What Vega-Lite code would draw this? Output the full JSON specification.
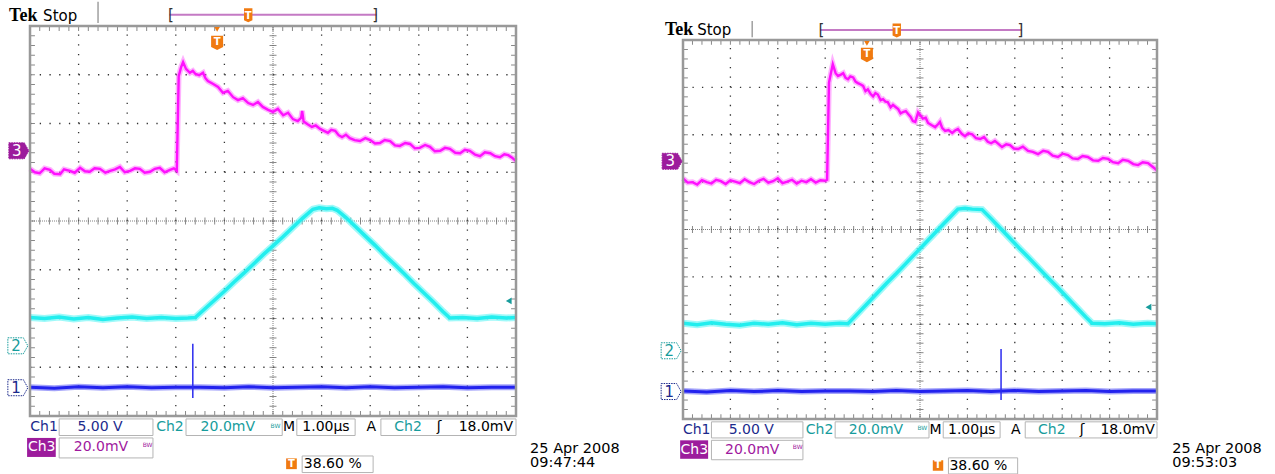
{
"$schema":"https://vega.github.io/schema/vega-lite/v6.json",
"padding":0,
"spacing":0,
"background":"#ffffff",
"config":{"view":{"stroke":null}},
"datasets":{
"minorX":[{"x":0.2},{"x":0.4},{"x":0.6},{"x":0.8},{"x":1},{"x":1.2},{"x":1.4},{"x":1.6},{"x":1.8},{"x":2},{"x":2.2},{"x":2.4},{"x":2.6},{"x":2.8},{"x":3},{"x":3.2},{"x":3.4},{"x":3.6},{"x":3.8},{"x":4},{"x":4.2},{"x":4.4},{"x":4.6},{"x":4.8},{"x":5},{"x":5.2},{"x":5.4},{"x":5.6},{"x":5.8},{"x":6},{"x":6.2},{"x":6.4},{"x":6.6},{"x":6.8},{"x":7},{"x":7.2},{"x":7.4},{"x":7.6},{"x":7.8},{"x":8},{"x":8.2},{"x":8.4},{"x":8.6},{"x":8.8},{"x":9},{"x":9.2},{"x":9.4},{"x":9.6},{"x":9.8}],
"minorY":[{"y":-3.8},{"y":-3.6},{"y":-3.4},{"y":-3.2},{"y":-3},{"y":-2.8},{"y":-2.6},{"y":-2.4},{"y":-2.2},{"y":-2},{"y":-1.8},{"y":-1.6},{"y":-1.4},{"y":-1.2},{"y":-1},{"y":-0.8},{"y":-0.6},{"y":-0.4},{"y":-0.2},{"y":0},{"y":0.2},{"y":0.4},{"y":0.6},{"y":0.8},{"y":1},{"y":1.2},{"y":1.4},{"y":1.6},{"y":1.8},{"y":2},{"y":2.2},{"y":2.4},{"y":2.6},{"y":2.8},{"y":3},{"y":3.2},{"y":3.4},{"y":3.6},{"y":3.8}],
"gridV":[{"x":1},{"x":2},{"x":3},{"x":4},{"x":6},{"x":7},{"x":8},{"x":9}],
"gridH":[{"y":-3},{"y":-2},{"y":-1},{"y":1},{"y":2},{"y":3}],
"frame":[{"x":0,"x2":10,"y":-4,"y2":4}],
"boxes":[{"x":0.6,"x2":2.53,"y":-4.06,"y2":-4.4},{"x":3.21,"x2":5.19,"y":-4.06,"y2":-4.4},{"x":5.49,"x2":6.69,"y":-4.06,"y2":-4.4},{"x":7.22,"x2":10,"y":-4.06,"y2":-4.4},{"x":0.6,"x2":2.53,"y":-4.45,"y2":-4.86},{"x":5.6,"x2":7.06,"y":-4.82,"y2":-5.16}],
"fills":[{"x":-0.06,"x2":0.53,"y":-4.45,"y2":-4.84,"k":"p"},{"x":5.27,"x2":5.49,"y":-4.87,"y2":-5.09,"k":"o"}],
"labels":[{"x":0.29,"y":-4.23,"t":"Ch1","k":"c1"},{"x":1.44,"y":-4.23,"t":"5.00 V","k":"c1"},{"x":2.88,"y":-4.23,"t":"Ch2","k":"c2"},{"x":4.07,"y":-4.23,"t":"20.0mV","k":"c2"},{"x":5.33,"y":-4.23,"t":"M","k":"k"},{"x":6.09,"y":-4.23,"t":"1.00µs","k":"k"},{"x":7.02,"y":-4.23,"t":"A","k":"k"},{"x":7.78,"y":-4.23,"t":"Ch2","k":"c2"},{"x":8.42,"y":-4.23,"t":"ʃ","k":"k"},{"x":9.38,"y":-4.23,"t":"18.0mV","k":"k"},{"x":0.24,"y":-4.645,"t":"Ch3","k":"w"},{"x":1.46,"y":-4.645,"t":"20.0mV","k":"c3"},{"x":6.23,"y":-4.99,"t":"38.60 %","k":"k"}],
"bw":[{"x":5.05,"y":-4.2,"t":"BW","k":"c2"},{"x":2.42,"y":-4.6,"t":"BW","k":"c3"}],
"mk":[{"x":-0.23,"y":1.44,"k":"c3"},{"x":-0.25,"y":-2.56,"k":"c2"},{"x":-0.25,"y":-3.42,"k":"c1"}],
"mkText":[{"x":-0.27,"y":1.44,"t":"3","k":"w"},{"x":-0.29,"y":-2.56,"t":"2","k":"c2"},{"x":-0.29,"y":-3.42,"t":"1","k":"c1"}],
"L3":[{"x":0.0,"y":1.07},{"x":0.1,"y":1.0},{"x":0.2,"y":0.98},{"x":0.3,"y":1.08},{"x":0.41,"y":1.05},{"x":0.5,"y":0.97},{"x":0.62,"y":0.96},{"x":0.7,"y":1.06},{"x":0.82,"y":1.03},{"x":0.92,"y":0.99},{"x":1.03,"y":1.09},{"x":1.13,"y":1.02},{"x":1.23,"y":1.01},{"x":1.33,"y":1.08},{"x":1.44,"y":1.07},{"x":1.55,"y":0.99},{"x":1.65,"y":1.03},{"x":1.75,"y":1.06},{"x":1.85,"y":1.11},{"x":1.95,"y":1.0},{"x":2.06,"y":1.03},{"x":2.16,"y":1.08},{"x":2.26,"y":1.07},{"x":2.36,"y":0.99},{"x":2.47,"y":1.01},{"x":2.57,"y":1.07},{"x":2.67,"y":1.09},{"x":2.77,"y":1.0},{"x":2.88,"y":1.05},{"x":2.96,"y":1.08},{"x":3.02,"y":1.03},{"x":3.06,"y":2.97},{"x":3.11,"y":3.16},{"x":3.15,"y":3.26},{"x":3.21,"y":3.12},{"x":3.29,"y":3.04},{"x":3.35,"y":3.08},{"x":3.4,"y":3.02},{"x":3.48,"y":2.99},{"x":3.56,"y":3.04},{"x":3.61,"y":2.93},{"x":3.66,"y":2.87},{"x":3.77,"y":2.81},{"x":3.87,"y":2.75},{"x":3.97,"y":2.63},{"x":4.07,"y":2.67},{"x":4.18,"y":2.54},{"x":4.28,"y":2.48},{"x":4.38,"y":2.52},{"x":4.49,"y":2.42},{"x":4.59,"y":2.38},{"x":4.69,"y":2.44},{"x":4.79,"y":2.34},{"x":4.9,"y":2.28},{"x":5.0,"y":2.24},{"x":5.1,"y":2.3},{"x":5.21,"y":2.17},{"x":5.31,"y":2.22},{"x":5.41,"y":2.09},{"x":5.51,"y":2.05},{"x":5.58,"y":2.12},{"x":5.6,"y":2.26},{"x":5.63,"y":2.04},{"x":5.72,"y":1.98},{"x":5.8,"y":1.93},{"x":5.88,"y":1.96},{"x":5.97,"y":1.89},{"x":6.05,"y":1.85},{"x":6.13,"y":1.81},{"x":6.2,"y":1.87},{"x":6.28,"y":1.85},{"x":6.35,"y":1.76},{"x":6.42,"y":1.72},{"x":6.5,"y":1.77},{"x":6.58,"y":1.7},{"x":6.68,"y":1.66},{"x":6.79,"y":1.64},{"x":6.9,"y":1.7},{"x":7.0,"y":1.66},{"x":7.1,"y":1.59},{"x":7.2,"y":1.6},{"x":7.3,"y":1.66},{"x":7.41,"y":1.64},{"x":7.51,"y":1.55},{"x":7.61,"y":1.54},{"x":7.72,"y":1.6},{"x":7.82,"y":1.58},{"x":7.92,"y":1.49},{"x":8.02,"y":1.5},{"x":8.13,"y":1.56},{"x":8.23,"y":1.52},{"x":8.33,"y":1.43},{"x":8.44,"y":1.44},{"x":8.54,"y":1.5},{"x":8.64,"y":1.48},{"x":8.75,"y":1.4},{"x":8.85,"y":1.39},{"x":8.95,"y":1.46},{"x":9.05,"y":1.44},{"x":9.16,"y":1.36},{"x":9.26,"y":1.33},{"x":9.36,"y":1.41},{"x":9.47,"y":1.39},{"x":9.57,"y":1.33},{"x":9.67,"y":1.31},{"x":9.76,"y":1.37},{"x":9.84,"y":1.35},{"x":9.92,"y":1.3},{"x":10.0,"y":1.23}],
"L2":[{"x":0,"y":-1.98},{"x":0.3,"y":-2.0},{"x":0.6,"y":-1.97},{"x":0.9,"y":-2.01},{"x":1.2,"y":-1.98},{"x":1.5,"y":-2.02},{"x":1.8,"y":-1.99},{"x":2.1,"y":-1.97},{"x":2.4,"y":-2.0},{"x":2.7,"y":-1.98},{"x":3.0,"y":-2.0},{"x":3.25,"y":-1.99},{"x":3.4,"y":-1.98},{"x":3.6,"y":-1.8},{"x":3.8,"y":-1.62},{"x":4.0,"y":-1.44},{"x":4.2,"y":-1.25},{"x":4.4,"y":-1.07},{"x":4.6,"y":-0.88},{"x":4.8,"y":-0.69},{"x":5.0,"y":-0.51},{"x":5.2,"y":-0.33},{"x":5.4,"y":-0.14},{"x":5.6,"y":0.05},{"x":5.82,"y":0.24},{"x":5.95,"y":0.27},{"x":6.1,"y":0.25},{"x":6.22,"y":0.26},{"x":6.32,"y":0.22},{"x":6.5,"y":0.07},{"x":6.7,"y":-0.12},{"x":6.9,"y":-0.31},{"x":7.1,"y":-0.5},{"x":7.3,"y":-0.7},{"x":7.5,"y":-0.89},{"x":7.7,"y":-1.08},{"x":7.9,"y":-1.28},{"x":8.1,"y":-1.47},{"x":8.3,"y":-1.66},{"x":8.5,"y":-1.86},{"x":8.64,"y":-1.99},{"x":8.9,"y":-1.98},{"x":9.2,"y":-2.0},{"x":9.5,"y":-1.97},{"x":9.8,"y":-1.99},{"x":10,"y":-1.98}],
"L1":[{"x":0,"y":-3.41},{"x":0.5,"y":-3.43},{"x":1,"y":-3.4},{"x":1.5,"y":-3.42},{"x":2,"y":-3.4},{"x":2.5,"y":-3.42},{"x":3,"y":-3.41},{"x":3.5,"y":-3.41},{"x":4,"y":-3.42},{"x":4.5,"y":-3.4},{"x":5,"y":-3.42},{"x":5.5,"y":-3.41},{"x":6,"y":-3.4},{"x":6.5,"y":-3.42},{"x":7,"y":-3.4},{"x":7.5,"y":-3.42},{"x":8,"y":-3.41},{"x":8.5,"y":-3.4},{"x":9,"y":-3.42},{"x":9.5,"y":-3.41},{"x":10,"y":-3.41}],
"R3":[{"x":0.0,"y":1.08},{"x":0.1,"y":0.99},{"x":0.2,"y":1.0},{"x":0.3,"y":0.95},{"x":0.4,"y":1.04},{"x":0.5,"y":1.0},{"x":0.6,"y":0.97},{"x":0.7,"y":1.05},{"x":0.8,"y":1.02},{"x":0.9,"y":0.96},{"x":1.0,"y":1.04},{"x":1.1,"y":1.01},{"x":1.2,"y":0.98},{"x":1.3,"y":1.06},{"x":1.4,"y":1.0},{"x":1.5,"y":0.96},{"x":1.6,"y":1.03},{"x":1.7,"y":1.07},{"x":1.8,"y":0.99},{"x":1.9,"y":1.02},{"x":2.0,"y":1.08},{"x":2.1,"y":0.98},{"x":2.2,"y":1.01},{"x":2.3,"y":1.05},{"x":2.4,"y":0.97},{"x":2.5,"y":1.03},{"x":2.6,"y":1.0},{"x":2.7,"y":1.06},{"x":2.8,"y":0.99},{"x":2.9,"y":1.04},{"x":3.0,"y":1.03},{"x":3.04,"y":1.05},{"x":3.08,"y":3.1},{"x":3.12,"y":3.3},{"x":3.16,"y":3.49},{"x":3.22,"y":3.3},{"x":3.27,"y":3.24},{"x":3.33,"y":3.27},{"x":3.38,"y":3.3},{"x":3.43,"y":3.2},{"x":3.48,"y":3.17},{"x":3.53,"y":3.23},{"x":3.59,"y":3.21},{"x":3.64,"y":3.12},{"x":3.69,"y":3.09},{"x":3.75,"y":3.06},{"x":3.8,"y":3.03},{"x":3.85,"y":2.92},{"x":3.9,"y":2.96},{"x":3.96,"y":2.86},{"x":4.01,"y":2.81},{"x":4.06,"y":2.88},{"x":4.11,"y":2.85},{"x":4.17,"y":2.73},{"x":4.22,"y":2.75},{"x":4.27,"y":2.7},{"x":4.32,"y":2.69},{"x":4.38,"y":2.58},{"x":4.43,"y":2.63},{"x":4.49,"y":2.58},{"x":4.54,"y":2.54},{"x":4.59,"y":2.45},{"x":4.64,"y":2.48},{"x":4.7,"y":2.5},{"x":4.75,"y":2.44},{"x":4.8,"y":2.38},{"x":4.85,"y":2.29},{"x":4.9,"y":2.27},{"x":4.96,"y":2.47},{"x":5.0,"y":2.42},{"x":5.06,"y":2.34},{"x":5.12,"y":2.36},{"x":5.17,"y":2.25},{"x":5.25,"y":2.2},{"x":5.32,"y":2.16},{"x":5.38,"y":2.22},{"x":5.42,"y":2.27},{"x":5.47,"y":2.14},{"x":5.53,"y":2.08},{"x":5.6,"y":2.1},{"x":5.68,"y":2.04},{"x":5.74,"y":2.09},{"x":5.8,"y":2.12},{"x":5.88,"y":2.02},{"x":5.95,"y":1.97},{"x":6.02,"y":2.03},{"x":6.1,"y":2.01},{"x":6.18,"y":1.93},{"x":6.27,"y":1.91},{"x":6.35,"y":1.95},{"x":6.43,"y":1.85},{"x":6.5,"y":1.82},{"x":6.58,"y":1.87},{"x":6.66,"y":1.8},{"x":6.73,"y":1.74},{"x":6.82,"y":1.8},{"x":6.9,"y":1.78},{"x":6.98,"y":1.71},{"x":7.07,"y":1.7},{"x":7.17,"y":1.75},{"x":7.28,"y":1.66},{"x":7.38,"y":1.64},{"x":7.49,"y":1.59},{"x":7.6,"y":1.66},{"x":7.7,"y":1.64},{"x":7.8,"y":1.56},{"x":7.91,"y":1.53},{"x":8.01,"y":1.6},{"x":8.12,"y":1.57},{"x":8.22,"y":1.5},{"x":8.33,"y":1.49},{"x":8.43,"y":1.55},{"x":8.54,"y":1.53},{"x":8.65,"y":1.46},{"x":8.76,"y":1.45},{"x":8.86,"y":1.51},{"x":8.97,"y":1.49},{"x":9.07,"y":1.42},{"x":9.18,"y":1.4},{"x":9.28,"y":1.47},{"x":9.39,"y":1.45},{"x":9.5,"y":1.38},{"x":9.6,"y":1.36},{"x":9.7,"y":1.42},{"x":9.81,"y":1.4},{"x":9.9,"y":1.33},{"x":10.0,"y":1.25}],
"R2":[{"x":0,"y":-1.98},{"x":0.3,"y":-2.01},{"x":0.6,"y":-1.97},{"x":0.9,"y":-2.0},{"x":1.2,"y":-2.02},{"x":1.5,"y":-1.98},{"x":1.8,"y":-2.0},{"x":2.1,"y":-1.97},{"x":2.4,"y":-2.01},{"x":2.7,"y":-1.98},{"x":3.0,"y":-2.0},{"x":3.3,"y":-1.98},{"x":3.48,"y":-1.99},{"x":3.7,"y":-1.76},{"x":3.9,"y":-1.55},{"x":4.1,"y":-1.34},{"x":4.3,"y":-1.13},{"x":4.5,"y":-0.93},{"x":4.7,"y":-0.72},{"x":4.9,"y":-0.51},{"x":5.1,"y":-0.3},{"x":5.3,"y":-0.09},{"x":5.5,"y":0.12},{"x":5.8,"y":0.43},{"x":5.95,"y":0.45},{"x":6.1,"y":0.43},{"x":6.31,"y":0.42},{"x":6.5,"y":0.23},{"x":6.7,"y":0.02},{"x":6.9,"y":-0.19},{"x":7.1,"y":-0.4},{"x":7.3,"y":-0.6},{"x":7.5,"y":-0.81},{"x":7.7,"y":-1.02},{"x":7.9,"y":-1.22},{"x":8.1,"y":-1.43},{"x":8.3,"y":-1.64},{"x":8.5,"y":-1.85},{"x":8.63,"y":-1.98},{"x":8.9,"y":-1.99},{"x":9.2,"y":-1.97},{"x":9.5,"y":-2.0},{"x":9.8,"y":-1.98},{"x":10,"y":-1.99}],
"R1":[{"x":0,"y":-3.41},{"x":0.5,"y":-3.43},{"x":1,"y":-3.4},{"x":1.5,"y":-3.42},{"x":2,"y":-3.4},{"x":2.5,"y":-3.42},{"x":3,"y":-3.41},{"x":3.5,"y":-3.41},{"x":4,"y":-3.42},{"x":4.5,"y":-3.4},{"x":5,"y":-3.42},{"x":5.5,"y":-3.41},{"x":6,"y":-3.4},{"x":6.5,"y":-3.42},{"x":7,"y":-3.4},{"x":7.5,"y":-3.42},{"x":8,"y":-3.41},{"x":8.5,"y":-3.4},{"x":9,"y":-3.42},{"x":9.5,"y":-3.41},{"x":10,"y":-3.41}]
},
"hconcat":[
{"width":486,"height":390,
"layer":[
{"data":{"values":[{"x":-0.617,"x2":12.55,"y":4.513}]},"mark":{"type":"rule","opacity":0},"encoding":{"x":{"field":"x","type":"quantitative","scale":{"domain":[0,10]},"axis":null},"x2":{"field":"x2"},"y":{"field":"y","type":"quantitative","scale":{"domain":[-4,4]},"axis":null}}},
{"data":{"name":"gridV"},"mark":{"type":"rule","color":"#333333","strokeWidth":1.3,"strokeDash":[1.3,8.45]},"encoding":{"x":{"field":"x","type":"quantitative","scale":{"domain":[0,10]},"axis":null},"y":{"datum":-4,"type":"quantitative","scale":{"domain":[-4,4]},"axis":null},"y2":{"datum":4}}},
{"data":{"name":"gridH"},"mark":{"type":"rule","color":"#333333","strokeWidth":1.3,"strokeDash":[1.3,8.42]},"encoding":{"y":{"field":"y","type":"quantitative","scale":{"domain":[-4,4]},"axis":null},"x":{"datum":0,"type":"quantitative","scale":{"domain":[0,10]},"axis":null},"x2":{"datum":10}}},
{"data":{"values":[{"x":5}]},"mark":{"type":"rule","color":"#808080","strokeWidth":1,"strokeDash":[1,1]},"encoding":{"x":{"field":"x","type":"quantitative","scale":{"domain":[0,10]},"axis":null},"y":{"datum":-4,"type":"quantitative","scale":{"domain":[-4,4]},"axis":null},"y2":{"datum":4}}},
{"data":{"values":[{"y":0}]},"mark":{"type":"rule","color":"#808080","strokeWidth":1,"strokeDash":[1,1]},"encoding":{"y":{"field":"y","type":"quantitative","scale":{"domain":[-4,4]},"axis":null},"x":{"datum":0,"type":"quantitative","scale":{"domain":[0,10]},"axis":null},"x2":{"datum":10}}},
{"data":{"name":"minorX"},"mark":{"type":"tick","orient":"vertical","size":7,"thickness":1,"color":"#555555"},"encoding":{"x":{"field":"x","type":"quantitative","scale":{"domain":[0,10]},"axis":null},"y":{"datum":0,"type":"quantitative","scale":{"domain":[-4,4]},"axis":null}}},
{"data":{"name":"minorX"},"mark":{"type":"tick","orient":"vertical","size":5,"thickness":1,"color":"#555555"},"encoding":{"x":{"field":"x","type":"quantitative","scale":{"domain":[0,10]},"axis":null},"y":{"datum":3.95,"type":"quantitative","scale":{"domain":[-4,4]},"axis":null}}},
{"data":{"name":"minorX"},"mark":{"type":"tick","orient":"vertical","size":5,"thickness":1,"color":"#555555"},"encoding":{"x":{"field":"x","type":"quantitative","scale":{"domain":[0,10]},"axis":null},"y":{"datum":-3.95,"type":"quantitative","scale":{"domain":[-4,4]},"axis":null}}},
{"data":{"name":"minorY"},"mark":{"type":"tick","orient":"horizontal","size":7,"thickness":1,"color":"#555555"},"encoding":{"y":{"field":"y","type":"quantitative","scale":{"domain":[-4,4]},"axis":null},"x":{"datum":5,"type":"quantitative","scale":{"domain":[0,10]},"axis":null}}},
{"data":{"name":"minorY"},"mark":{"type":"tick","orient":"horizontal","size":5,"thickness":1,"color":"#555555"},"encoding":{"y":{"field":"y","type":"quantitative","scale":{"domain":[-4,4]},"axis":null},"x":{"datum":0.05,"type":"quantitative","scale":{"domain":[0,10]},"axis":null}}},
{"data":{"name":"minorY"},"mark":{"type":"tick","orient":"horizontal","size":5,"thickness":1,"color":"#555555"},"encoding":{"y":{"field":"y","type":"quantitative","scale":{"domain":[-4,4]},"axis":null},"x":{"datum":9.95,"type":"quantitative","scale":{"domain":[0,10]},"axis":null}}},
{"data":{"name":"L2"},"mark":{"type":"line","color":"#5ff5f5","strokeWidth":7,"opacity":0.6},"encoding":{"x":{"field":"x","type":"quantitative","scale":{"domain":[0,10]},"axis":null},"y":{"field":"y","type":"quantitative","scale":{"domain":[-4,4]},"axis":null}}},
{"data":{"name":"L2"},"mark":{"type":"line","color":"#22eeee","strokeWidth":3.5},"encoding":{"x":{"field":"x","type":"quantitative","scale":{"domain":[0,10]},"axis":null},"y":{"field":"y","type":"quantitative","scale":{"domain":[-4,4]},"axis":null}}},
{"data":{"name":"L3"},"mark":{"type":"line","color":"#ff66ff","strokeWidth":5.5,"opacity":0.5},"encoding":{"x":{"field":"x","type":"quantitative","scale":{"domain":[0,10]},"axis":null},"y":{"field":"y","type":"quantitative","scale":{"domain":[-4,4]},"axis":null}}},
{"data":{"name":"L3"},"mark":{"type":"line","color":"#ff10ff","strokeWidth":2.4},"encoding":{"x":{"field":"x","type":"quantitative","scale":{"domain":[0,10]},"axis":null},"y":{"field":"y","type":"quantitative","scale":{"domain":[-4,4]},"axis":null}}},
{"data":{"name":"L1"},"mark":{"type":"line","color":"#4a4af5","strokeWidth":6,"opacity":0.5},"encoding":{"x":{"field":"x","type":"quantitative","scale":{"domain":[0,10]},"axis":null},"y":{"field":"y","type":"quantitative","scale":{"domain":[-4,4]},"axis":null}}},
{"data":{"name":"L1"},"mark":{"type":"line","color":"#2222ee","strokeWidth":3},"encoding":{"x":{"field":"x","type":"quantitative","scale":{"domain":[0,10]},"axis":null},"y":{"field":"y","type":"quantitative","scale":{"domain":[-4,4]},"axis":null}}},
{"data":{"values":[{"x":3.35,"y":-2.52,"y2":-3.63}]},"mark":{"type":"rule","color":"#2b2bef","strokeWidth":1.5},"encoding":{"x":{"field":"x","type":"quantitative","scale":{"domain":[0,10]},"axis":null},"y":{"field":"y","type":"quantitative","scale":{"domain":[-4,4]},"axis":null},"y2":{"field":"y2"}}},
{"data":{"name":"frame"},"mark":{"type":"rect","filled":false,"stroke":"#999999","strokeWidth":2.5},"encoding":{"x":{"field":"x","type":"quantitative","scale":{"domain":[0,10]},"axis":null},"x2":{"field":"x2"},"y":{"field":"y","type":"quantitative","scale":{"domain":[-4,4]},"axis":null},"y2":{"field":"y2"}}},
{"data":{"values":[{"x":9.85,"y":-1.64}]},"mark":{"type":"point","shape":"triangle-left","size":45,"filled":true,"color":"#179c9c","opacity":1},"encoding":{"x":{"field":"x","type":"quantitative","scale":{"domain":[0,10]},"axis":null},"y":{"field":"y","type":"quantitative","scale":{"domain":[-4,4]},"axis":null}}},
{"data":{"name":"mk"},"mark":{"type":"point","shape":"M-1,-0.8L0.55,-0.8L1,0L0.55,0.8L-1,0.8Z","size":400,"filled":true,"opacity":1,"strokeWidth":1,"strokeDash":[1.5,1]},"encoding":{"x":{"field":"x","type":"quantitative","scale":{"domain":[0,10]},"axis":null},"y":{"field":"y","type":"quantitative","scale":{"domain":[-4,4]},"axis":null},"fill":{"field":"k","type":"nominal","scale":{"domain":["c3","c2","c1"],"range":["#9c1c9c","#ffffff","#ffffff"]},"legend":null},"stroke":{"field":"k","type":"nominal","scale":{"domain":["c3","c2","c1"],"range":["#9c1c9c","#179c9c","#1c2a8c"]},"legend":null}}},
{"data":{"name":"mkText"},"mark":{"type":"text","font":"DejaVu Sans","fontSize":15,"baseline":"middle","align":"center"},"encoding":{"x":{"field":"x","type":"quantitative","scale":{"domain":[0,10]},"axis":null},"y":{"field":"y","type":"quantitative","scale":{"domain":[-4,4]},"axis":null},"text":{"field":"t"},"color":{"field":"k","type":"nominal","scale":{"domain":["c1","c2","c3","k","w","o","p"],"range":["#1c2a8c","#179c9c","#a0189e","#000000","#ffffff","#f07a10","#9c1c9c"]},"legend":null}}},
{"data":{"values":[{"x":1.4,"y":4.06,"y2":4.5}]},"mark":{"type":"rule","color":"#a0a0a0","strokeWidth":1.5},"encoding":{"x":{"field":"x","type":"quantitative","scale":{"domain":[0,10]},"axis":null},"y":{"field":"y","type":"quantitative","scale":{"domain":[-4,4]},"axis":null},"y2":{"field":"y2"}}},
{"data":{"values":[{"x":2.87,"x2":7.13,"y":4.23}]},"mark":{"type":"rule","color":"#c47ac4","strokeWidth":2},"encoding":{"x":{"field":"x","type":"quantitative","scale":{"domain":[0,10]},"axis":null},"x2":{"field":"x2"},"y":{"field":"y","type":"quantitative","scale":{"domain":[-4,4]},"axis":null}}},
{"data":{"values":[{"x":2.9,"y":4.23,"t":"["},{"x":7.1,"y":4.23,"t":"]"}]},"mark":{"type":"text","font":"DejaVu Sans","fontSize":15,"baseline":"middle","align":"center","color":"#333333"},"encoding":{"x":{"field":"x","type":"quantitative","scale":{"domain":[0,10]},"axis":null},"y":{"field":"y","type":"quantitative","scale":{"domain":[-4,4]},"axis":null},"text":{"field":"t"}}},
{"data":{"values":[{"x":-0.43,"y":4.21,"t":"Tek"}]},"mark":{"type":"text","font":"Liberation Serif","fontWeight":"bold","fontSize":18,"baseline":"middle","align":"left","color":"#000000"},"encoding":{"x":{"field":"x","type":"quantitative","scale":{"domain":[0,10]},"axis":null},"y":{"field":"y","type":"quantitative","scale":{"domain":[-4,4]},"axis":null},"text":{"field":"t"}}},
{"data":{"values":[{"x":0.27,"y":4.21,"t":"Stop"}]},"mark":{"type":"text","font":"DejaVu Sans","fontSize":15,"baseline":"middle","align":"left","color":"#000000"},"encoding":{"x":{"field":"x","type":"quantitative","scale":{"domain":[0,10]},"axis":null},"y":{"field":"y","type":"quantitative","scale":{"domain":[-4,4]},"axis":null},"text":{"field":"t"}}},
{"data":{"values":[{"x":3.85,"y":3.93}]},"mark":{"type":"point","shape":"triangle-down","size":30,"filled":true,"color":"#f07a10","opacity":1},"encoding":{"x":{"field":"x","type":"quantitative","scale":{"domain":[0,10]},"axis":null},"y":{"field":"y","type":"quantitative","scale":{"domain":[-4,4]},"axis":null}}},
{"data":{"values":[{"x":3.85,"y":3.67}]},"mark":{"type":"point","shape":"M-0.75,-0.8L0.75,-0.8L0.75,0.6L0,1L-0.75,0.6Z","size":256,"filled":true,"color":"#f07a10","opacity":1},"encoding":{"x":{"field":"x","type":"quantitative","scale":{"domain":[0,10]},"axis":null},"y":{"field":"y","type":"quantitative","scale":{"domain":[-4,4]},"axis":null}}},
{"data":{"values":[{"x":4.49,"y":4.22}]},"mark":{"type":"point","shape":"M-0.6,-1L0.6,-1L0.6,0.7L0,1L-0.6,0.7Z","size":196,"filled":true,"color":"#f07a10","opacity":1},"encoding":{"x":{"field":"x","type":"quantitative","scale":{"domain":[0,10]},"axis":null},"y":{"field":"y","type":"quantitative","scale":{"domain":[-4,4]},"axis":null}}},
{"data":{"values":[{"x":3.85,"y":3.67,"t":"T"},{"x":4.49,"y":4.2,"t":"T"}]},"mark":{"type":"text","font":"DejaVu Sans","fontWeight":"bold","fontSize":10,"baseline":"middle","align":"center","color":"#ffffff"},"encoding":{"x":{"field":"x","type":"quantitative","scale":{"domain":[0,10]},"axis":null},"y":{"field":"y","type":"quantitative","scale":{"domain":[-4,4]},"axis":null},"text":{"field":"t"}}},
{"data":{"name":"boxes"},"mark":{"type":"rect","fill":"#ffffff","stroke":"#b4b4b4","strokeWidth":1},"encoding":{"x":{"field":"x","type":"quantitative","scale":{"domain":[0,10]},"axis":null},"x2":{"field":"x2"},"y":{"field":"y","type":"quantitative","scale":{"domain":[-4,4]},"axis":null},"y2":{"field":"y2"}}},
{"data":{"name":"fills"},"mark":{"type":"rect"},"encoding":{"x":{"field":"x","type":"quantitative","scale":{"domain":[0,10]},"axis":null},"x2":{"field":"x2"},"y":{"field":"y","type":"quantitative","scale":{"domain":[-4,4]},"axis":null},"y2":{"field":"y2"},"color":{"field":"k","type":"nominal","scale":{"domain":["c1","c2","c3","k","w","o","p"],"range":["#1c2a8c","#179c9c","#a0189e","#000000","#ffffff","#f07a10","#9c1c9c"]},"legend":null}}},
{"data":{"name":"labels"},"mark":{"type":"text","font":"DejaVu Sans","fontSize":14,"baseline":"middle","align":"center"},"encoding":{"x":{"field":"x","type":"quantitative","scale":{"domain":[0,10]},"axis":null},"y":{"field":"y","type":"quantitative","scale":{"domain":[-4,4]},"axis":null},"text":{"field":"t"},"color":{"field":"k","type":"nominal","scale":{"domain":["c1","c2","c3","k","w","o","p"],"range":["#1c2a8c","#179c9c","#a0189e","#000000","#ffffff","#f07a10","#9c1c9c"]},"legend":null}}},
{"data":{"name":"bw"},"mark":{"type":"text","font":"DejaVu Sans","fontSize":6,"baseline":"middle","align":"center"},"encoding":{"x":{"field":"x","type":"quantitative","scale":{"domain":[0,10]},"axis":null},"y":{"field":"y","type":"quantitative","scale":{"domain":[-4,4]},"axis":null},"text":{"field":"t"},"color":{"field":"k","type":"nominal","scale":{"domain":["c1","c2","c3","k","w","o","p"],"range":["#1c2a8c","#179c9c","#a0189e","#000000","#ffffff","#f07a10","#9c1c9c"]},"legend":null}}},
{"data":{"values":[{"x":5.38,"y":-4.98,"t":"T"}]},"mark":{"type":"text","font":"DejaVu Sans","fontWeight":"bold","fontSize":10,"baseline":"middle","align":"center","color":"#ffffff"},"encoding":{"x":{"field":"x","type":"quantitative","scale":{"domain":[0,10]},"axis":null},"y":{"field":"y","type":"quantitative","scale":{"domain":[-4,4]},"axis":null},"text":{"field":"t"}}},
{"data":{"values":[{"x":10.29,"y":-4.67,"t":"25 Apr  2008"},{"x":10.29,"y":-4.96,"t":"09:47:44"}]},"mark":{"type":"text","font":"DejaVu Sans","fontSize":14.5,"baseline":"middle","align":"left","color":"#000000"},"encoding":{"x":{"field":"x","type":"quantitative","scale":{"domain":[0,10]},"axis":null},"y":{"field":"y","type":"quantitative","scale":{"domain":[-4,4]},"axis":null},"text":{"field":"t"}}}
]},
{"width":474,"height":393,
"layer":[
{"data":{"values":[{"x":-0.907,"x2":12.49,"y":4.823}]},"mark":{"type":"rule","opacity":0},"encoding":{"x":{"field":"x","type":"quantitative","scale":{"domain":[0,10]},"axis":null},"x2":{"field":"x2"},"y":{"field":"y","type":"quantitative","scale":{"domain":[-4,4.2954],"nice":false},"axis":null}}},
{"data":{"name":"gridV"},"mark":{"type":"rule","color":"#333333","strokeWidth":1.3,"strokeDash":[1.3,8.18]},"encoding":{"x":{"field":"x","type":"quantitative","scale":{"domain":[0,10]},"axis":null},"y":{"datum":-4,"type":"quantitative","scale":{"domain":[-4,4.2954],"nice":false},"axis":null},"y2":{"datum":4}}},
{"data":{"name":"gridH"},"mark":{"type":"rule","color":"#333333","strokeWidth":1.3,"strokeDash":[1.3,8.18]},"encoding":{"y":{"field":"y","type":"quantitative","scale":{"domain":[-4,4.2954],"nice":false},"axis":null},"x":{"datum":0,"type":"quantitative","scale":{"domain":[0,10]},"axis":null},"x2":{"datum":10}}},
{"data":{"values":[{"x":5}]},"mark":{"type":"rule","color":"#808080","strokeWidth":1,"strokeDash":[1,1]},"encoding":{"x":{"field":"x","type":"quantitative","scale":{"domain":[0,10]},"axis":null},"y":{"datum":-4,"type":"quantitative","scale":{"domain":[-4,4.2954],"nice":false},"axis":null},"y2":{"datum":4}}},
{"data":{"values":[{"y":0}]},"mark":{"type":"rule","color":"#808080","strokeWidth":1,"strokeDash":[1,1]},"encoding":{"y":{"field":"y","type":"quantitative","scale":{"domain":[-4,4.2954],"nice":false},"axis":null},"x":{"datum":0,"type":"quantitative","scale":{"domain":[0,10]},"axis":null},"x2":{"datum":10}}},
{"data":{"name":"minorX"},"mark":{"type":"tick","orient":"vertical","size":7,"thickness":1,"color":"#555555"},"encoding":{"x":{"field":"x","type":"quantitative","scale":{"domain":[0,10]},"axis":null},"y":{"datum":0,"type":"quantitative","scale":{"domain":[-4,4.2954],"nice":false},"axis":null}}},
{"data":{"name":"minorX"},"mark":{"type":"tick","orient":"vertical","size":5,"thickness":1,"color":"#555555"},"encoding":{"x":{"field":"x","type":"quantitative","scale":{"domain":[0,10]},"axis":null},"y":{"datum":3.95,"type":"quantitative","scale":{"domain":[-4,4.2954],"nice":false},"axis":null}}},
{"data":{"name":"minorX"},"mark":{"type":"tick","orient":"vertical","size":5,"thickness":1,"color":"#555555"},"encoding":{"x":{"field":"x","type":"quantitative","scale":{"domain":[0,10]},"axis":null},"y":{"datum":-3.95,"type":"quantitative","scale":{"domain":[-4,4.2954],"nice":false},"axis":null}}},
{"data":{"name":"minorY"},"mark":{"type":"tick","orient":"horizontal","size":7,"thickness":1,"color":"#555555"},"encoding":{"y":{"field":"y","type":"quantitative","scale":{"domain":[-4,4.2954],"nice":false},"axis":null},"x":{"datum":5,"type":"quantitative","scale":{"domain":[0,10]},"axis":null}}},
{"data":{"name":"minorY"},"mark":{"type":"tick","orient":"horizontal","size":5,"thickness":1,"color":"#555555"},"encoding":{"y":{"field":"y","type":"quantitative","scale":{"domain":[-4,4.2954],"nice":false},"axis":null},"x":{"datum":0.05,"type":"quantitative","scale":{"domain":[0,10]},"axis":null}}},
{"data":{"name":"minorY"},"mark":{"type":"tick","orient":"horizontal","size":5,"thickness":1,"color":"#555555"},"encoding":{"y":{"field":"y","type":"quantitative","scale":{"domain":[-4,4.2954],"nice":false},"axis":null},"x":{"datum":9.95,"type":"quantitative","scale":{"domain":[0,10]},"axis":null}}},
{"data":{"name":"R2"},"mark":{"type":"line","color":"#5ff5f5","strokeWidth":7,"opacity":0.6},"encoding":{"x":{"field":"x","type":"quantitative","scale":{"domain":[0,10]},"axis":null},"y":{"field":"y","type":"quantitative","scale":{"domain":[-4,4.2954],"nice":false},"axis":null}}},
{"data":{"name":"R2"},"mark":{"type":"line","color":"#22eeee","strokeWidth":3.5},"encoding":{"x":{"field":"x","type":"quantitative","scale":{"domain":[0,10]},"axis":null},"y":{"field":"y","type":"quantitative","scale":{"domain":[-4,4.2954],"nice":false},"axis":null}}},
{"data":{"name":"R3"},"mark":{"type":"line","color":"#ff66ff","strokeWidth":5.5,"opacity":0.5},"encoding":{"x":{"field":"x","type":"quantitative","scale":{"domain":[0,10]},"axis":null},"y":{"field":"y","type":"quantitative","scale":{"domain":[-4,4.2954],"nice":false},"axis":null}}},
{"data":{"name":"R3"},"mark":{"type":"line","color":"#ff10ff","strokeWidth":2.4},"encoding":{"x":{"field":"x","type":"quantitative","scale":{"domain":[0,10]},"axis":null},"y":{"field":"y","type":"quantitative","scale":{"domain":[-4,4.2954],"nice":false},"axis":null}}},
{"data":{"name":"R1"},"mark":{"type":"line","color":"#4a4af5","strokeWidth":6,"opacity":0.5},"encoding":{"x":{"field":"x","type":"quantitative","scale":{"domain":[0,10]},"axis":null},"y":{"field":"y","type":"quantitative","scale":{"domain":[-4,4.2954],"nice":false},"axis":null}}},
{"data":{"name":"R1"},"mark":{"type":"line","color":"#2222ee","strokeWidth":3},"encoding":{"x":{"field":"x","type":"quantitative","scale":{"domain":[0,10]},"axis":null},"y":{"field":"y","type":"quantitative","scale":{"domain":[-4,4.2954],"nice":false},"axis":null}}},
{"data":{"values":[{"x":6.71,"y":-2.52,"y2":-3.6}]},"mark":{"type":"rule","color":"#2b2bef","strokeWidth":1.5},"encoding":{"x":{"field":"x","type":"quantitative","scale":{"domain":[0,10]},"axis":null},"y":{"field":"y","type":"quantitative","scale":{"domain":[-4,4.2954],"nice":false},"axis":null},"y2":{"field":"y2"}}},
{"data":{"name":"frame"},"mark":{"type":"rect","filled":false,"stroke":"#999999","strokeWidth":2.5},"encoding":{"x":{"field":"x","type":"quantitative","scale":{"domain":[0,10]},"axis":null},"x2":{"field":"x2"},"y":{"field":"y","type":"quantitative","scale":{"domain":[-4,4.2954],"nice":false},"axis":null},"y2":{"field":"y2"}}},
{"data":{"values":[{"x":9.82,"y":-1.64}]},"mark":{"type":"point","shape":"triangle-left","size":45,"filled":true,"color":"#179c9c","opacity":1},"encoding":{"x":{"field":"x","type":"quantitative","scale":{"domain":[0,10]},"axis":null},"y":{"field":"y","type":"quantitative","scale":{"domain":[-4,4.2954],"nice":false},"axis":null}}},
{"data":{"name":"mk"},"mark":{"type":"point","shape":"M-1,-0.8L0.55,-0.8L1,0L0.55,0.8L-1,0.8Z","size":400,"filled":true,"opacity":1,"strokeWidth":1,"strokeDash":[1.5,1]},"encoding":{"x":{"field":"x","type":"quantitative","scale":{"domain":[0,10]},"axis":null},"y":{"field":"y","type":"quantitative","scale":{"domain":[-4,4.2954],"nice":false},"axis":null},"fill":{"field":"k","type":"nominal","scale":{"domain":["c3","c2","c1"],"range":["#9c1c9c","#ffffff","#ffffff"]},"legend":null},"stroke":{"field":"k","type":"nominal","scale":{"domain":["c3","c2","c1"],"range":["#9c1c9c","#179c9c","#1c2a8c"]},"legend":null}}},
{"data":{"name":"mkText"},"mark":{"type":"text","font":"DejaVu Sans","fontSize":15,"baseline":"middle","align":"center"},"encoding":{"x":{"field":"x","type":"quantitative","scale":{"domain":[0,10]},"axis":null},"y":{"field":"y","type":"quantitative","scale":{"domain":[-4,4.2954],"nice":false},"axis":null},"text":{"field":"t"},"color":{"field":"k","type":"nominal","scale":{"domain":["c1","c2","c3","k","w","o","p"],"range":["#1c2a8c","#179c9c","#a0189e","#000000","#ffffff","#f07a10","#9c1c9c"]},"legend":null}}},
{"data":{"values":[{"x":1.46,"y":4.06,"y2":4.4}]},"mark":{"type":"rule","color":"#a0a0a0","strokeWidth":1.5},"encoding":{"x":{"field":"x","type":"quantitative","scale":{"domain":[0,10]},"axis":null},"y":{"field":"y","type":"quantitative","scale":{"domain":[-4,4.2954],"nice":false},"axis":null},"y2":{"field":"y2"}}},
{"data":{"values":[{"x":2.89,"x2":7.15,"y":4.21}]},"mark":{"type":"rule","color":"#c47ac4","strokeWidth":2},"encoding":{"x":{"field":"x","type":"quantitative","scale":{"domain":[0,10]},"axis":null},"x2":{"field":"x2"},"y":{"field":"y","type":"quantitative","scale":{"domain":[-4,4.2954],"nice":false},"axis":null}}},
{"data":{"values":[{"x":2.92,"y":4.21,"t":"["},{"x":7.12,"y":4.21,"t":"]"}]},"mark":{"type":"text","font":"DejaVu Sans","fontSize":15,"baseline":"middle","align":"center","color":"#333333"},"encoding":{"x":{"field":"x","type":"quantitative","scale":{"domain":[0,10]},"axis":null},"y":{"field":"y","type":"quantitative","scale":{"domain":[-4,4.2954],"nice":false},"axis":null},"text":{"field":"t"}}},
{"data":{"values":[{"x":-0.38,"y":4.21,"t":"Tek"}]},"mark":{"type":"text","font":"Liberation Serif","fontWeight":"bold","fontSize":18,"baseline":"middle","align":"left","color":"#000000"},"encoding":{"x":{"field":"x","type":"quantitative","scale":{"domain":[0,10]},"axis":null},"y":{"field":"y","type":"quantitative","scale":{"domain":[-4,4.2954],"nice":false},"axis":null},"text":{"field":"t"}}},
{"data":{"values":[{"x":0.3,"y":4.21,"t":"Stop"}]},"mark":{"type":"text","font":"DejaVu Sans","fontSize":15,"baseline":"middle","align":"left","color":"#000000"},"encoding":{"x":{"field":"x","type":"quantitative","scale":{"domain":[0,10]},"axis":null},"y":{"field":"y","type":"quantitative","scale":{"domain":[-4,4.2954],"nice":false},"axis":null},"text":{"field":"t"}}},
{"data":{"values":[{"x":3.88,"y":3.93}]},"mark":{"type":"point","shape":"triangle-down","size":30,"filled":true,"color":"#f07a10","opacity":1},"encoding":{"x":{"field":"x","type":"quantitative","scale":{"domain":[0,10]},"axis":null},"y":{"field":"y","type":"quantitative","scale":{"domain":[-4,4.2954],"nice":false},"axis":null}}},
{"data":{"values":[{"x":3.88,"y":3.7}]},"mark":{"type":"point","shape":"M-0.75,-0.8L0.75,-0.8L0.75,0.6L0,1L-0.75,0.6Z","size":256,"filled":true,"color":"#f07a10","opacity":1},"encoding":{"x":{"field":"x","type":"quantitative","scale":{"domain":[0,10]},"axis":null},"y":{"field":"y","type":"quantitative","scale":{"domain":[-4,4.2954],"nice":false},"axis":null}}},
{"data":{"values":[{"x":4.51,"y":4.2}]},"mark":{"type":"point","shape":"M-0.6,-1L0.6,-1L0.6,0.7L0,1L-0.6,0.7Z","size":196,"filled":true,"color":"#f07a10","opacity":1},"encoding":{"x":{"field":"x","type":"quantitative","scale":{"domain":[0,10]},"axis":null},"y":{"field":"y","type":"quantitative","scale":{"domain":[-4,4.2954],"nice":false},"axis":null}}},
{"data":{"values":[{"x":3.88,"y":3.7,"t":"T"},{"x":4.51,"y":4.18,"t":"T"}]},"mark":{"type":"text","font":"DejaVu Sans","fontWeight":"bold","fontSize":10,"baseline":"middle","align":"center","color":"#ffffff"},"encoding":{"x":{"field":"x","type":"quantitative","scale":{"domain":[0,10]},"axis":null},"y":{"field":"y","type":"quantitative","scale":{"domain":[-4,4.2954],"nice":false},"axis":null},"text":{"field":"t"}}},
{"data":{"name":"boxes"},"mark":{"type":"rect","fill":"#ffffff","stroke":"#b4b4b4","strokeWidth":1},"encoding":{"x":{"field":"x","type":"quantitative","scale":{"domain":[0,10]},"axis":null},"x2":{"field":"x2"},"y":{"field":"y","type":"quantitative","scale":{"domain":[-4,4.2954],"nice":false},"axis":null},"y2":{"field":"y2"}}},
{"data":{"name":"fills"},"mark":{"type":"rect"},"encoding":{"x":{"field":"x","type":"quantitative","scale":{"domain":[0,10]},"axis":null},"x2":{"field":"x2"},"y":{"field":"y","type":"quantitative","scale":{"domain":[-4,4.2954],"nice":false},"axis":null},"y2":{"field":"y2"},"color":{"field":"k","type":"nominal","scale":{"domain":["c1","c2","c3","k","w","o","p"],"range":["#1c2a8c","#179c9c","#a0189e","#000000","#ffffff","#f07a10","#9c1c9c"]},"legend":null}}},
{"data":{"name":"labels"},"mark":{"type":"text","font":"DejaVu Sans","fontSize":14,"baseline":"middle","align":"center"},"encoding":{"x":{"field":"x","type":"quantitative","scale":{"domain":[0,10]},"axis":null},"y":{"field":"y","type":"quantitative","scale":{"domain":[-4,4.2954],"nice":false},"axis":null},"text":{"field":"t"},"color":{"field":"k","type":"nominal","scale":{"domain":["c1","c2","c3","k","w","o","p"],"range":["#1c2a8c","#179c9c","#a0189e","#000000","#ffffff","#f07a10","#9c1c9c"]},"legend":null}}},
{"data":{"name":"bw"},"mark":{"type":"text","font":"DejaVu Sans","fontSize":6,"baseline":"middle","align":"center"},"encoding":{"x":{"field":"x","type":"quantitative","scale":{"domain":[0,10]},"axis":null},"y":{"field":"y","type":"quantitative","scale":{"domain":[-4,4.2954],"nice":false},"axis":null},"text":{"field":"t"},"color":{"field":"k","type":"nominal","scale":{"domain":["c1","c2","c3","k","w","o","p"],"range":["#1c2a8c","#179c9c","#a0189e","#000000","#ffffff","#f07a10","#9c1c9c"]},"legend":null}}},
{"data":{"values":[{"x":5.38,"y":-4.98,"t":"T"}]},"mark":{"type":"text","font":"DejaVu Sans","fontWeight":"bold","fontSize":10,"baseline":"middle","align":"center","color":"#ffffff"},"encoding":{"x":{"field":"x","type":"quantitative","scale":{"domain":[0,10]},"axis":null},"y":{"field":"y","type":"quantitative","scale":{"domain":[-4,4.2954],"nice":false},"axis":null},"text":{"field":"t"}}},
{"data":{"values":[{"x":10.32,"y":-4.64,"t":"25 Apr  2008"},{"x":10.32,"y":-4.93,"t":"09:53:03"}]},"mark":{"type":"text","font":"DejaVu Sans","fontSize":14.5,"baseline":"middle","align":"left","color":"#000000"},"encoding":{"x":{"field":"x","type":"quantitative","scale":{"domain":[0,10]},"axis":null},"y":{"field":"y","type":"quantitative","scale":{"domain":[-4,4.2954],"nice":false},"axis":null},"text":{"field":"t"}}}
]}
]
}
